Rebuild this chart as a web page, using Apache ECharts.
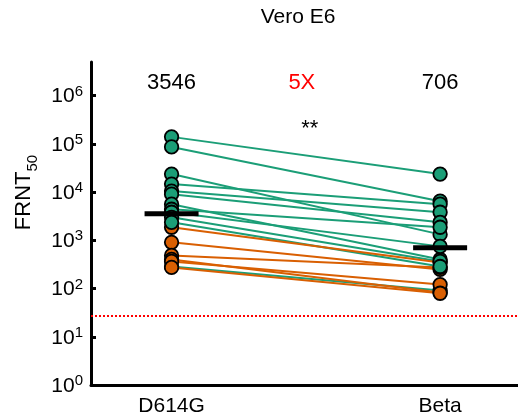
<!DOCTYPE html>
<html>
<head>
<meta charset="utf-8">
<script src="https://cdn.jsdelivr.net/npm/echarts@6/dist/echarts.min.js"></script>
<style>
html,body{margin:0;padding:0;background:#fff;}
#chart{width:518px;height:420px;}
</style>
</head>
<body>
<div id="chart"></div>
<script>
// ---- data ----
const categories = ['D614G', 'Beta'];
const greenD614G = [140000, 86600, 23700, 14700, 10500, 9090, 5620, 4420, 3830, 3010, 2370, 287];
const greenBeta  = [23700, 6490, 1330, 5620, 3830, 2370, 402, 1870, 750, 365, 287, 91];
const orangeD614G = [1870, 909, 487, 402, 365, 274];
const orangeBeta  = [348, 249, 274, 83, 121, 80];
const gmt = [3546, 706];
const foldChange = '5X';
const significance = '**';
const detectionLimit = 27;
const yTicks = [1, 10, 100, 1000, 10000, 100000, 1000000];
const titleText = 'Vero E6';

// ---- styling ----
const FONT = 'Liberation Sans, Arial, Helvetica, sans-serif';
const GREEN = '#1b9e77';
const ORANGE = '#d95f02';
const ANN_Y = 1.8e6;
const STAR_Y = 2.0e5;

const series = [];
function addLines(left, right, color) {
  left.forEach((v, i) => {
    series.push({
      type: 'line', silent: true, z: 2, symbol: 'none',
      lineStyle: { color: color, width: 2 },
      data: [[0, v], [1, right[i]]]
    });
  });
}
addLines(greenD614G, greenBeta, GREEN);
addLines(orangeD614G, orangeBeta, ORANGE);

// dots: drawing order chosen to mimic overlap in reference
const dots = [];
function dot(x, v, color) {
  dots.push({ value: [x, v], itemStyle: { color: color } });
}
const last = greenD614G.length - 1;
dot(0, greenD614G[last], GREEN); dot(1, greenBeta[last], GREEN);
orangeD614G.forEach((v, i) => { dot(0, v, ORANGE); dot(1, orangeBeta[i], ORANGE); });
greenD614G.forEach((v, i) => { if (i !== last) { dot(0, v, GREEN); dot(1, greenBeta[i], GREEN); } });

series.push({
  type: 'scatter', z: 4, silent: true, symbol: 'circle', symbolSize: 13.5,
  itemStyle: { borderColor: '#000', borderWidth: 1.8, opacity: 1 },
  data: dots
});

// geometric mean bars + detection limit
series.push({
  type: 'scatter', z: 6, silent: true, symbol: 'rect', symbolSize: [54, 5],
  itemStyle: { color: '#000', opacity: 1 },
  data: gmt.map((v, i) => [i, v]),
  markLine: {
    silent: true, symbol: 'none', animation: false,
    label: { show: false },
    lineStyle: { color: '#ff0000', width: 2, type: [2, 2], opacity: 1 },
    data: [{ yAxis: detectionLimit }]
  }
});

// annotations
const annLabel = { show: true, position: 'inside', fontSize: 22, fontFamily: FONT, color: '#000',
  opacity: 1, formatter: p => p.name };
series.push({
  type: 'scatter', z: 7, silent: true, symbolSize: 0,
  itemStyle: { opacity: 1 },
  label: annLabel,
  data: [
    { value: [0, ANN_Y], name: String(gmt[0]) },
    { value: [0.5, ANN_Y], name: foldChange, label: { color: '#ff0000', offset: [-4, 0] } },
    { value: [1, ANN_Y], name: String(gmt[1]) },
    { value: [0.5, STAR_Y], name: significance, label: { offset: [4, 0] } }
  ]
});

const chart = echarts.init(document.getElementById('chart'), null, { renderer: 'canvas' });
chart.setOption({
  animation: false,
  backgroundColor: '#fff',
  title: {
    text: titleText, left: 298, top: 7, textAlign: 'center', padding: 0,
    textStyle: { fontSize: 21, fontWeight: 'normal', fontFamily: FONT, color: '#000' }
  },
  grid: { left: 91, right: 0, top: 62, bottom: 35, containLabel: false, outerBoundsMode: 'none' },
  xAxis: {
    type: 'value', min: -0.3, max: 1.29,
    axisLine: { onZero: false, lineStyle: { color: '#000', width: 3 } },
    axisTick: { show: false },
    splitLine: { show: false },
    axisLabel: {
      customValues: [0, 1], margin: 11,
      formatter: v => categories[Math.round(v)],
      fontSize: 21, fontFamily: FONT, color: '#000'
    }
  },
  yAxis: {
    type: 'log', logBase: 10, min: 1, max: 5e6,
    name: '{main|FRNT}{sub|50}', nameLocation: 'middle', nameRotate: 90, nameGap: 48,
    nameTextStyle: {
      fontSize: 22, fontFamily: FONT, color: '#000', padding: [0, 0, 0, 62],
      rich: {
        main: { fontSize: 22, fontFamily: FONT, color: '#000', verticalAlign: 'top' },
        sub: { fontSize: 15, fontFamily: FONT, color: '#000', verticalAlign: 'top', padding: [12, 0, 0, 0] }
      }
    },
    axisLine: { show: true, onZero: false, lineStyle: { color: '#000', width: 3 } },
    axisTick: { show: true, inside: true, length: 5, customValues: yTicks, lineStyle: { color: '#000', width: 3 } },
    splitLine: { show: false },
    axisLabel: {
      customValues: yTicks, margin: 8,
      formatter: v => '{b|10}{s|' + Math.round(Math.log10(v)) + '}',
      rich: {
        b: { fontSize: 21, fontFamily: FONT, color: '#000', verticalAlign: 'bottom' },
        s: { fontSize: 15, fontFamily: FONT, color: '#000', verticalAlign: 'bottom', padding: [0, 0, 8, 0] }
      }
    }
  },
  series: series
});
</script>
</body>
</html>
